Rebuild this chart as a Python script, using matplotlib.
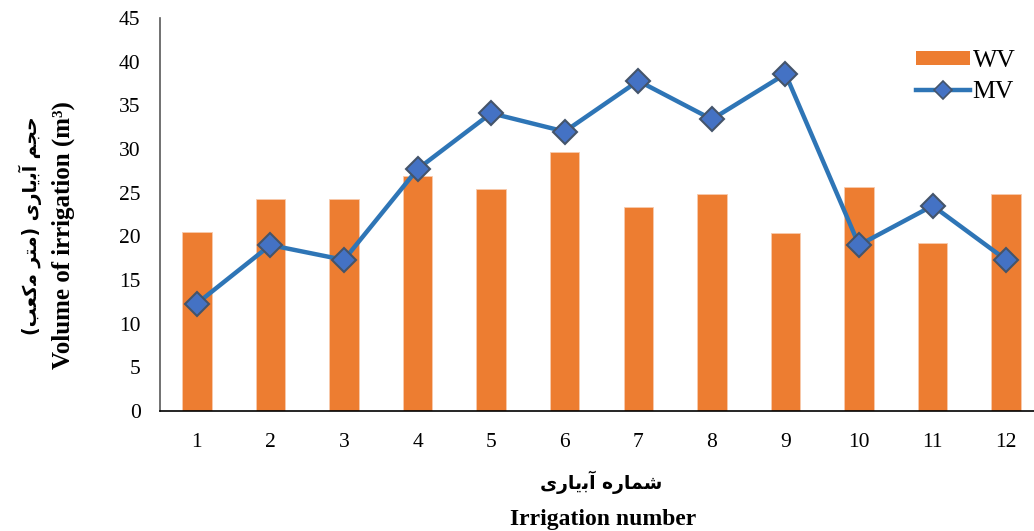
import matplotlib
matplotlib.use("Agg")
import matplotlib.pyplot as plt
from matplotlib.patches import Patch
from matplotlib.lines import Line2D

# data
irrigation = [1, 2, 3, 4, 5, 6, 7, 8, 9, 10, 11, 12]
wv = [20.5, 24.3, 24.3, 26.9, 25.4, 29.7, 23.4, 24.9, 20.4, 25.6, 19.2, 24.9]
mv = [12.3, 19.0, 17.3, 27.7, 34.1, 32.0, 37.8, 33.4, 38.6, 19.0, 23.5, 17.3]

# Persian labels, shaped by hand (presentation forms, visual order)
def visual(s):
    return s[::-1]

fa_x = visual("\uFEB7\uFEE4\uFE8E\uFEAD\uFEE9 \uFE81\uFE91\uFBFE\uFE8E\uFEAD\uFBFC")
fa_y = visual("\uFEA3\uFEA0\uFEE2 \uFE81\uFE91\uFBFE\uFE8E\uFEAD\uFBFC )\uFEE3\uFE98\uFEAE \uFEE3\uFB90\uFECC\uFE90(")

orange = "#ED7D31"
blue = "#2E75B6"
marker_blue = "#4472C4"
marker_edge = "#44546A"

plt.rcParams["font.family"] = ["Liberation Serif", "DejaVu Sans"]

fig = plt.figure(figsize=(10.34, 5.31), dpi=100)
ax = fig.add_axes([160 / 1034, 1 - 411 / 531, (1043 - 160) / 1034, 393 / 531])

ax.bar(irrigation, wv, width=0.4, color=orange, edgecolor="#F8CBAD", linewidth=0.6, zorder=2)
ax.plot(irrigation, mv, color=blue, linewidth=3.2, marker="D", markersize=12,
        markerfacecolor=marker_blue, markeredgecolor=marker_edge, markeredgewidth=1.5, zorder=3)

ax.set_xlim(0.5, 12.5)
ax.set_ylim(0, 45)
ax.set_yticks(range(0, 46, 5))
ax.set_xticks(irrigation)
ax.tick_params(axis="both", length=0, labelsize=15.5)
ax.tick_params(axis="y", pad=14)
ax.tick_params(axis="x", pad=16)

for s in ["top", "right"]:
    ax.spines[s].set_visible(False)
ax.spines["left"].set_color("#595959")
ax.spines["left"].set_linewidth(1.2)
ax.spines["bottom"].set_color("black")
ax.spines["bottom"].set_linewidth(1.2)

handles = [
    Patch(facecolor=orange, label="WV"),
    Line2D([], [], color=blue, linewidth=3.2, marker="D", markersize=9,
           markerfacecolor=marker_blue, markeredgecolor=marker_edge, markeredgewidth=1.2, label="MV"),
]
ax.legend(handles=handles, loc="upper left", bbox_to_anchor=(0.83, 0.978), frameon=False,
          fontsize=18.5, handlelength=2.1, handleheight=0.45, handletextpad=0.1, labelspacing=0.35)

fig.text(601 / 1034, 1 - 482 / 531, fa_x, ha="center", va="center", fontsize=13.5,
         fontweight="bold", family=["DejaVu Sans"])
fig.text(603 / 1034, 1 - 520 / 531, "Irrigation number", ha="center", va="center",
         fontsize=17, fontweight="bold")
fig.text(30 / 1034, 1 - 226 / 531, fa_y, ha="center", va="center", rotation=90,
         fontsize=13.5, fontweight="bold", family=["DejaVu Sans"])
fig.text(63 / 1034, 1 - 235 / 531, "Volume of irrigation (m³)", ha="center", va="center",
         rotation=90, fontsize=18, fontweight="bold")

fig.savefig("out.png", dpi=100)
